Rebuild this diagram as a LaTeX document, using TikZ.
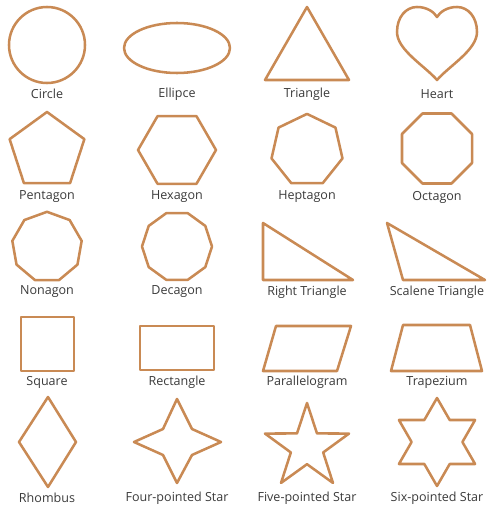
\documentclass[tikz,border=0pt]{standalone}
\usepackage{fontspec}
\setmainfont{Open Sans}
\definecolor{shapebrown}{RGB}{201,138,84}
\definecolor{labelgray}{RGB}{58,58,58}
\tikzset{
  outl/.style={draw=shapebrown, line width=1.9pt, line join=round},
  lbl/.style={text=labelgray, font=\fontsize{9.4}{11}\selectfont, inner sep=0.75pt}
}

\begin{document}
\begin{tikzpicture}[x=0.75pt,y=0.75pt,yscale=-1,xscale=1]
\useasboundingbox (0,0) rectangle (487,509);

%Row 1
%Shape: Circle
\draw[outl] (47,45) circle[radius=38];
%Shape: Ellipse
\draw[outl] (177,48) ellipse[x radius=53, y radius=25];
%Shape: Triangle
\draw[outl] (307,7) -- (349,80) -- (265,80) -- cycle;
%Shape: Heart
\draw[outl] (437,80) .. controls (425,66) and (397,50) .. (397,32) .. controls (397,17) and (406,7) .. (417,7) .. controls (427,7) and (434,12) .. (437,17) .. controls (440,12) and (447,7) .. (457,7) .. controls (468,7) and (477,17) .. (477,32) .. controls (477,50) and (449,66) .. (437,80) -- cycle;

% Text Node
\node[lbl] (lblCircle) at (47,94) {Circle};
\node[lbl] (lblEllipse) at (177,94) {Ellipce};
\node[lbl] (lblTriangle) at (307,94) {Triangle};
\node[lbl] (lblHeart) at (437,94) {Heart};

%Row 2
%Shape: Pentagon
\draw[outl,shift={(47,151.3)}] (-90:39.3) -- (-18:39.3) -- (54:39.3) -- (126:39.3) -- (198:39.3) -- cycle;
%Shape: Hexagon
\draw[outl,shift={(177,150)}] (0:39) -- (60:39) -- (120:39) -- (180:39) -- (240:39) -- (300:39) -- cycle;
%Shape: Heptagon
\draw[outl,shift={(307,150.3)}] (-90:36.4) \foreach \k in {1,...,6} { -- (-90+\k*360/7:36.4) } -- cycle;
%Shape: Octagon
\draw[outl,shift={(437,148.5)}] (22.5:37.9) \foreach \k in {1,...,7} { -- (22.5+\k*45:37.9) } -- cycle;

% Text Node
\node[lbl] (lblPentagon) at (47,197) {Pentagon};
\node[lbl] (lblHexagon) at (177,197) {Hexagon};
\node[lbl] (lblHeptagon) at (307,197) {Heptagon};
\node[lbl] (lblOctagon) at (437,197) {Octagon};

%Row 3
%Shape: Nonagon
\draw[outl,shift={(47,247)}] (-90:35.2) \foreach \k in {1,...,8} { -- (-90+\k*40:35.2) } -- cycle;
%Shape: Decagon
\draw[outl,shift={(177,246.5)}] (0:35) \foreach \k in {1,...,9} { -- (\k*36:35) } -- cycle;
%Shape: Right Triangle
\draw[outl] (263,223) -- (353,280) -- (263,280) -- cycle;
%Shape: Scalene Triangle
\draw[outl] (387,223) -- (485,280) -- (403,280) -- cycle;

% Text Node
\node[lbl] (lblNonagon) at (47,292) {Nonagon};
\node[lbl] (lblDecagon) at (177,292) {Decagon};
\node[lbl] (lblRightTri) at (307,292) {Right Triangle};
\node[lbl] (lblScaleneTri) at (437,292) {Scalene Triangle};

%Row 4
%Shape: Square
\draw[outl] (21,317) rectangle (74,371);
%Shape: Rectangle
\draw[outl] (140,326) rectangle (214,370);
%Shape: Parallelogram
\draw[outl] (276,326) -- (351,326) -- (337,371) -- (263,371) -- cycle;
%Shape: Trapezium
\draw[outl] (403,325) -- (470,325) -- (482,371) -- (391,371) -- cycle;

% Text Node
\node[lbl] (lblSquare) at (47,382) {Square};
\node[lbl] (lblRectangle) at (177,382) {Rectangle};
\node[lbl] (lblParallelogram) at (307,382) {Parallelogram};
\node[lbl] (lblTrapezium) at (437,382) {Trapezium};

%Row 5
%Shape: Rhombus
\draw[outl] (48,397) -- (76,442) -- (48,487) -- (19,442) -- cycle;
%Shape: Four-pointed Star
\draw[outl] (177,399) -- (192,429) -- (221,442) -- (192,455) -- (177,483) -- (163,455) -- (134,442) -- (163,429) -- cycle;
%Shape: Five-pointed Star
\draw[outl,shift={(307,447.2)}] (-90:44.2) \foreach \k in {1,...,4} { -- (-54+\k*72-72:17) -- (-90+\k*72:44.2) } -- (234:17) -- cycle;
%Shape: Six-pointed Star
\draw[outl,shift={(437,442)}] (-90:44) \foreach \k in {1,...,5} { -- (-120+\k*60:25.4) -- (-90+\k*60:44) } -- (240:25.4) -- cycle;

% Text Node
\node[lbl] (lblRhombus) at (47,498) {Rhombus};
\node[lbl] (lblFourStar) at (177,498) {Four-pointed Star};
\node[lbl] (lblFiveStar) at (307,498) {Five-pointed Star};
\node[lbl] (lblSixStar) at (437,498) {Six-pointed Star};

\end{tikzpicture}
\end{document}
